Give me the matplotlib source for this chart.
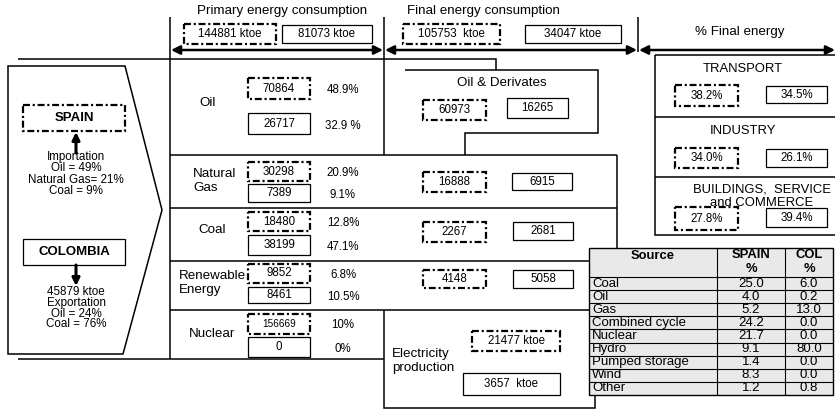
import matplotlib.pyplot as plt
from matplotlib.patches import Rectangle, Polygon

plt.rcParams['font.family'] = ['Liberation Sans', 'DejaVu Sans']
plt.rcParams['lines.scale_dashes'] = False

# values (SPAIN = dashed boxes, COLOMBIA = solid boxes)
total_primary = ['144881 ktoe', '81073 ktoe']
total_final = ['105753  ktoe', '34047 ktoe']

sources = ['Oil', 'Natural\nGas', 'Coal', 'Renewable\nEnergy', 'Nuclear']
primary_spain = [70864, 30298, 18480, 9852, 156669]
primary_col = [26717, 7389, 38199, 8461, 0]
primary_pct_spain = ['48.9%', '20.9%', '12.8%', '6.8%', '10%']
primary_pct_col = ['32.9 %', '9.1%', '47.1%', '10.5%', '0%']

final_spain = [60973, 16888, 2267, 4148]
final_col = [16265, 6915, 2681, 5058]
elec_spain = '21477 ktoe'
elec_col = '3657  ktoe'

sectors = ['TRANSPORT', 'INDUSTRY', 'BUILDINGS,  SERVICE\nand COMMERCE']
sector_spain = ['38.2%', '34.0%', '27.8%']
sector_col = ['34.5%', '26.1%', '39.4%']

import_lines = ['Importation', 'Oil = 49%', 'Natural Gas= 21%', 'Coal = 9%']
export_lines = ['45879 ktoe', 'Exportation', 'Oil = 24%', 'Coal = 76%']

tab_source = ['Coal', 'Oil', 'Gas', 'Combined cycle', 'Nuclear', 'Hydro',
              'Pumped storage', 'Wind', 'Other']
tab_spain = [25.0, 4.0, 5.2, 24.2, 21.7, 9.1, 1.4, 8.3, 1.2]
tab_col = [6.0, 0.2, 13.0, 0.0, 0.0, 80.0, 0.0, 0.0, 0.8]

DASH = (0, (5, 2, 1.5, 2))

fig = plt.figure(figsize=(8.35, 4.12), dpi=100)
ax = fig.add_axes([0, 0, 1, 1])
ax.set_xlim(0, 835)
ax.set_ylim(412, 0)
ax.axis('off')


def line(xs, ys, lw=1.1):
    ax.plot(xs, ys, color='black', lw=lw, solid_capstyle='butt', solid_joinstyle='miter')


def box(x0, y0, x1, y1, txt, dashed=False, fs=8.3, weight='normal'):
    if dashed:
        r = Rectangle((x0, y0), x1 - x0, y1 - y0, fill=False, lw=1.6, ls=DASH, ec='black')
    else:
        r = Rectangle((x0, y0), x1 - x0, y1 - y0, fill=False, lw=0.9, ec='black')
    ax.add_patch(r)
    ax.text((x0 + x1) / 2, (y0 + y1) / 2, txt, ha='center', va='center', fontsize=fs,
            fontweight=weight)


def arrow(x0, x1, y):
    ax.annotate('', xy=(x1, y), xytext=(x0, y),
                arrowprops=dict(arrowstyle='<|-|>', lw=1.8, color='black',
                                mutation_scale=13, shrinkA=0, shrinkB=0))


# header
ax.text(282, 11, 'Primary energy consumption', ha='center', va='center', fontsize=9.6)
ax.text(483, 11, 'Final energy consumption', ha='center', va='center', fontsize=9.6)
ax.text(740, 32, '% Final energy', ha='center', va='center', fontsize=9.6)
box(184, 24, 276, 44, total_primary[0], dashed=True)
box(282, 25, 372, 43, total_primary[1])
box(403, 24, 500, 44, total_final[0], dashed=True)
box(525, 25, 621, 43, total_final[1])
arrow(171, 383, 50)
arrow(385, 637, 50)
arrow(639, 835, 50)

# frame lines
line([170, 170], [17, 359])
line([384, 384], [17, 155])
line([638, 638], [17, 52])
line([18, 496, 496], [59, 59, 70])
line([405, 598, 598, 465, 465], [70, 70, 133, 133, 155])
line([170, 617], [155, 155])
line([170, 617], [208, 208])
line([170, 589], [261, 261])
line([170, 589], [310, 310])
line([18, 384], [359, 359])
line([617, 617], [155, 248])
line([384, 384, 595, 595], [310, 408, 408, 395])

# left panel
ax.add_patch(Polygon([(8, 66), (125, 66), (162, 210), (123, 354), (8, 354)],
                     closed=True, fill=False, ec='black', lw=1.1))
box(23, 105, 125, 131, 'SPAIN', dashed=True, fs=9.5, weight='bold')
box(23, 239, 125, 265, 'COLOMBIA', fs=9.5, weight='bold')
ax.annotate('', xy=(76, 132), xytext=(76, 153),
            arrowprops=dict(arrowstyle='-|>', lw=2.2, color='black', mutation_scale=11,
                            shrinkA=0, shrinkB=0))
ax.annotate('', xy=(76, 286), xytext=(76, 265),
            arrowprops=dict(arrowstyle='-|>', lw=2.2, color='black', mutation_scale=11,
                            shrinkA=0, shrinkB=0))
for i, s in enumerate(import_lines):
    ax.text(76, 157 + i * 11.3, s, ha='center', va='center', fontsize=8.4)
for i, s in enumerate(export_lines):
    ax.text(76, 292 + i * 10.8, s, ha='center', va='center', fontsize=8.4)

# primary energy rows
label_pos = [(208, 103, 'center'), (193, 181, 'left'), (212, 230, 'center'),
             (179, 283, 'left'), (212, 334, 'center')]
dash_y = [(78, 99), (162, 181), (212, 231), (264, 283), (314, 334)]
solid_y = [(113, 134), (184, 202), (235, 255), (287, 303), (337, 357)]
for i in range(len(sources)):
    lx, ly, ha = label_pos[i]
    ax.text(lx, ly, sources[i], ha=ha, va='center', fontsize=9.6, linespacing=1.25)
    fs = 7.2 if primary_spain[i] > 99999 else 8.3
    box(248, dash_y[i][0], 310, dash_y[i][1], str(primary_spain[i]), dashed=True, fs=fs)
    box(248, solid_y[i][0], 310, solid_y[i][1], str(primary_col[i]))
    ax.text(343, sum(dash_y[i]) / 2 + 1, primary_pct_spain[i], ha='center', va='center', fontsize=8.3)
    ax.text(343, sum(solid_y[i]) / 2 + 2, primary_pct_col[i], ha='center', va='center', fontsize=8.3)

# final energy rows
ax.text(502, 83, 'Oil & Derivates', ha='center', va='center', fontsize=9.6)
fd_y = [(100, 120), (172, 192), (222, 242), (270, 288)]
fs_y = [(98, 118), (173, 190), (222, 240), (270, 288)]
fs_x = [(507, 568), (512, 572), (513, 573), (513, 573)]
for i in range(len(final_spain)):
    box(423, fd_y[i][0], 486, fd_y[i][1], str(final_spain[i]), dashed=True)
    box(fs_x[i][0], fs_y[i][0], fs_x[i][1], fs_y[i][1], str(final_col[i]))

ax.text(392, 361, 'Electricity\nproduction', ha='left', va='center', fontsize=9.6, linespacing=1.2)
box(472, 331, 560, 351, elec_spain, dashed=True)
box(463, 373, 560, 395, elec_col)

# % final energy panel
line([655, 840, 840, 655, 655], [55, 55, 235, 235, 55])
line([655, 835], [117, 117])
line([655, 835], [177, 177])
sec_title_y = [69, 131, 196]
sec_title_x = [743, 743, 762]
sec_d = [(85, 106), (148, 168), (207, 230)]
sec_s = [(86, 103), (149, 167), (208, 227)]
for i in range(len(sectors)):
    ax.text(sec_title_x[i], sec_title_y[i], sectors[i], ha='center', va='center',
            fontsize=9.4, linespacing=1.2)
    box(675, sec_d[i][0], 738, sec_d[i][1], sector_spain[i], dashed=True)
    box(766, sec_s[i][0], 827, sec_s[i][1], sector_col[i])

# electricity generation table
cx = [589, 717, 785, 833]
top, head_h, row_h = 248, 29, 13.1
bottom = top + head_h + row_h * len(tab_source)
ax.add_patch(Rectangle((cx[0], top), cx[-1] - cx[0], bottom - top, fc='#e9e9e9', ec='black', lw=1.0))
for x in cx[1:-1]:
    line([x, x], [top, bottom], lw=0.8)
for j in range(len(tab_source)):
    line([cx[0], cx[-1]], [top + head_h + j * row_h] * 2, lw=0.8)
ax.text((cx[0] + cx[1]) / 2, top + 8, 'Source', ha='center', va='center', fontsize=9.4, fontweight='bold')
ax.text((cx[1] + cx[2]) / 2, top + 14, 'SPAIN\n%', ha='center', va='center', fontsize=9.4,
        fontweight='bold', linespacing=1.2)
ax.text((cx[2] + cx[3]) / 2, top + 14, 'COL\n%', ha='center', va='center', fontsize=9.4,
        fontweight='bold', linespacing=1.2)
for j in range(len(tab_source)):
    yc = top + head_h + (j + 0.5) * row_h
    ax.text(cx[0] + 3, yc, tab_source[j], ha='left', va='center', fontsize=9.5)
    ax.text((cx[1] + cx[2]) / 2, yc, f'{tab_spain[j]:.1f}', ha='center', va='center', fontsize=9.5)
    ax.text((cx[2] + cx[3]) / 2, yc, f'{tab_col[j]:.1f}', ha='center', va='center', fontsize=9.5)

fig.savefig('out.png', dpi=100)
